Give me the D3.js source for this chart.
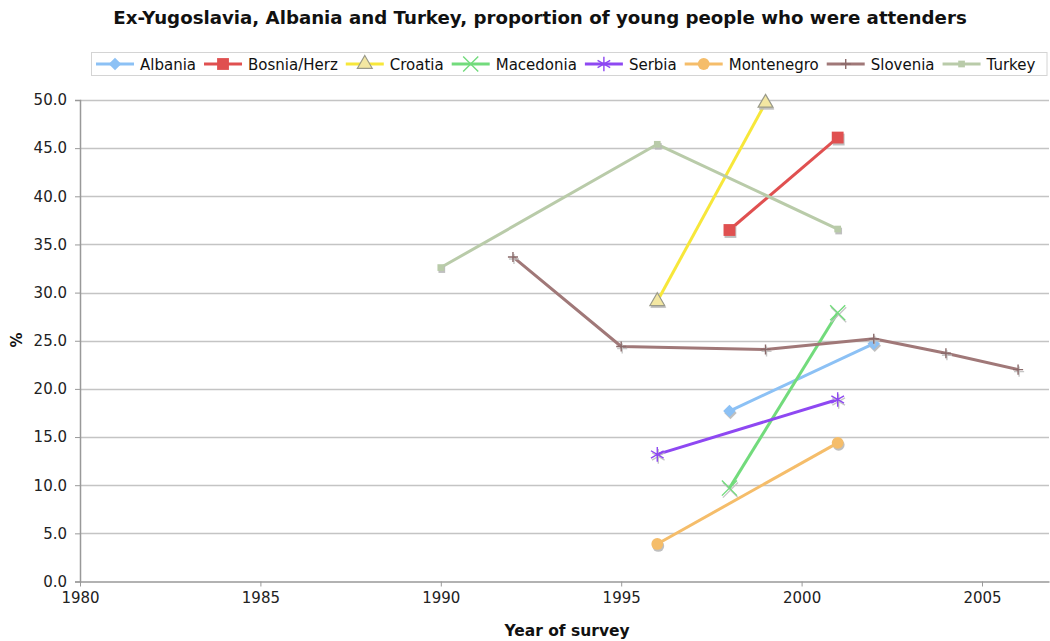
<!DOCTYPE html>
<html>
<head>
<meta charset="utf-8">
<script src="https://cdn.jsdelivr.net/npm/d3@7"></script>
<style>
  html, body { margin: 0; padding: 0; background: #fff; }
  svg { display: block; font-family: "DejaVu Sans", Verdana, sans-serif; }
</style>
</head>
<body>
<svg id="chart" width="1050" height="641"></svg>
<script>
// Survey years and share of young people who were attenders (%)
const albaniaYears = [1998, 2002];
const albaniaValues = [17.7, 24.7];
const bosniaYears = [1998, 2001];
const bosniaValues = [36.5, 46.1];
const croatiaYears = [1996, 1999];
const croatiaValues = [29.1, 49.7];
const macedoniaYears = [1998, 2001];
const macedoniaValues = [9.7, 27.9];
const serbiaYears = [1996, 2001];
const serbiaValues = [13.2, 18.9];
const montenegroYears = [1996, 2001];
const montenegroValues = [3.9, 14.4];
const sloveniaYears = [1992, 1995, 1999, 2002, 2004, 2006];
const sloveniaValues = [33.7, 24.4, 24.1, 25.2, 23.7, 22.0];
const turkeyYears = [1990, 1996, 2001];
const turkeyValues = [32.6, 45.4, 36.6];

const seriesNames = ["Albania", "Bosnia/Herz", "Croatia", "Macedonia", "Serbia", "Montenegro", "Slovenia", "Turkey"];
const xTicks = [1980, 1985, 1990, 1995, 2000, 2005];
const yTicks = [0, 5, 10, 15, 20, 25, 30, 35, 40, 45, 50];

const series = [
  { name: seriesNames[0], years: albaniaYears, values: albaniaValues, color: "#8cc1f5", symbol: d3.symbolSquare, rotate: 45, size: 78, fill: "#8cc1f5", stroke: null },
  { name: seriesNames[1], years: bosniaYears, values: bosniaValues, color: "#e05050", symbol: d3.symbolSquare, rotate: 0, size: 140, fill: "#e05050", stroke: null },
  { name: seriesNames[2], years: croatiaYears, values: croatiaValues, color: "#f7e73a", symbol: d3.symbolTriangle, rotate: 0, size: 95, fill: "#f3e7a2", stroke: "#9a9a8a" },
  { name: seriesNames[3], years: macedoniaYears, values: macedoniaValues, color: "#72db7c", symbol: d3.symbolX, rotate: 0, size: 150, fill: "none", stroke: "#72db7c" },
  { name: seriesNames[4], years: serbiaYears, values: serbiaValues, color: "#8e48f2", symbol: d3.symbolAsterisk, rotate: 0, size: 150, fill: "none", stroke: "#8e48f2" },
  { name: seriesNames[5], years: montenegroYears, values: montenegroValues, color: "#f5bd6a", symbol: d3.symbolCircle, rotate: 0, size: 110, fill: "#f5bd6a", stroke: null },
  { name: seriesNames[6], years: sloveniaYears, values: sloveniaValues, color: "#a07878", symbol: d3.symbolPlus, rotate: 0, size: 35, fill: "none", stroke: "#8a6a6a" },
  { name: seriesNames[7], years: turkeyYears, values: turkeyValues, color: "#b9cba9", symbol: d3.symbolSquare, rotate: 0, size: 45, fill: "#b9cba9", stroke: null }
];

const svg = d3.select("#chart");
const plotLeft = 80, plotBottom = 581.5, plotTop = 100, plotRight = 1049;

const x0 = d3.scaleLinear().domain([1980, 2005]).range([plotLeft, 982]);
const x = d3.scaleLinear().domain([1980, x0.invert(plotRight)]).range([plotLeft, plotRight]);
const y = d3.scaleLinear().domain([0, 50]).range([plotBottom, plotTop]);

// Title
svg.append("text")
  .attr("x", 540).attr("y", 24)
  .attr("text-anchor", "middle")
  .attr("font-size", 18.2).attr("font-weight", "bold").attr("fill", "#111")
  .text("Ex-Yugoslavia, Albania and Turkey, proportion of young people who were attenders");

// Horizontal gridlines
svg.append("g").selectAll("line").data(yTicks.filter(d => d > 0)).join("line")
  .attr("x1", plotLeft).attr("x2", plotRight)
  .attr("y1", d => Math.round(y(d)) + 0.5).attr("y2", d => Math.round(y(d)) + 0.5)
  .attr("stroke", "#c4c4c4").attr("stroke-width", 1.3);

// Y axis
const yAxis = svg.append("g")
  .attr("transform", `translate(${plotLeft},0)`)
  .call(d3.axisLeft(y).tickValues(yTicks).tickFormat(d3.format(".1f")).tickSize(5).tickPadding(8));
yAxis.select(".domain").attr("stroke", "#999").attr("stroke-width", 1.5);
yAxis.selectAll(".tick line").attr("stroke", "#999");
yAxis.selectAll(".tick text").attr("font-size", 15).attr("fill", "#222").attr("font-family", "DejaVu Sans, sans-serif");

// X axis
const xAxis = svg.append("g")
  .attr("transform", `translate(0,${plotBottom})`)
  .call(d3.axisBottom(x).tickValues(xTicks).tickFormat(d3.format("d")).tickSize(5).tickSizeOuter(0).tickPadding(6));
xAxis.select(".domain").attr("stroke", "#999").attr("stroke-width", 1.5);
xAxis.selectAll(".tick line").attr("stroke", "#999");
xAxis.selectAll(".tick text").attr("font-size", 15).attr("fill", "#222").attr("font-family", "DejaVu Sans, sans-serif");

// Axis titles
svg.append("text")
  .attr("x", 567).attr("y", 636)
  .attr("text-anchor", "middle")
  .attr("font-size", 15.5).attr("font-weight", "bold").attr("fill", "#111")
  .text("Year of survey");
svg.append("text")
  .attr("transform", "translate(22,340) rotate(-90)")
  .attr("text-anchor", "middle")
  .attr("font-size", 15).attr("font-weight", "bold").attr("fill", "#111")
  .text("%");

const line = d3.line().x(d => x(d[0])).y(d => y(d[1]));

function drawMarker(g, s, cx, cy) {
  const path = d3.symbol().type(s.symbol).size(s.size)();
  const strokeOnly = s.fill === "none";
  // soft drop shadow under each marker
  g.append("path")
    .attr("d", path)
    .attr("transform", `translate(${cx + 1},${cy + 2}) rotate(${s.rotate})`)
    .attr("fill", strokeOnly ? "none" : "#b8b8b8")
    .attr("stroke", strokeOnly || s.stroke ? "#c0c0c0" : "none")
    .attr("stroke-width", strokeOnly ? 1.4 : 1)
    .attr("opacity", 0.9);
  g.append("path")
    .attr("d", path)
    .attr("transform", `translate(${cx},${cy}) rotate(${s.rotate})`)
    .attr("fill", s.fill)
    .attr("stroke", s.stroke || "none")
    .attr("stroke-width", strokeOnly ? 1.4 : 1.2);
}

// Series lines and markers
series.forEach(s => {
  const pts = s.years.map((yr, i) => [yr, s.values[i]]);
  const g = svg.append("g");
  g.append("path")
    .datum(pts)
    .attr("d", line)
    .attr("fill", "none")
    .attr("stroke", s.color)
    .attr("stroke-width", 3)
    .attr("stroke-linejoin", "round");
  pts.forEach(p => drawMarker(g, s, x(p[0]), y(p[1])));
});

// Legend
const legend = svg.append("g");
const legendBox = legend.append("rect")
  .attr("x", 91.5).attr("y", 52.5).attr("height", 23)
  .attr("fill", "#fff").attr("stroke", "#d4d4d4").attr("stroke-width", 1);
let lx = 96;
const ly = 64;
series.forEach(s => {
  const g = legend.append("g");
  g.append("line")
    .attr("x1", lx).attr("x2", lx + 38).attr("y1", ly).attr("y2", ly)
    .attr("stroke", s.color).attr("stroke-width", 3);
  const path = d3.symbol().type(s.symbol).size(s.size)();
  g.append("path")
    .attr("d", path)
    .attr("transform", `translate(${lx + 19},${ly}) rotate(${s.rotate})`)
    .attr("fill", s.fill)
    .attr("stroke", s.stroke || "none")
    .attr("stroke-width", s.fill === "none" ? 1.4 : 1.2);
  const t = g.append("text")
    .attr("x", lx + 44).attr("y", ly + 5.5)
    .attr("font-size", 15).attr("fill", "#111")
    .text(s.name);
  lx += 44 + t.node().getComputedTextLength() + 8;
});
legendBox.attr("width", 955.5);
</script>
</body>
</html>
